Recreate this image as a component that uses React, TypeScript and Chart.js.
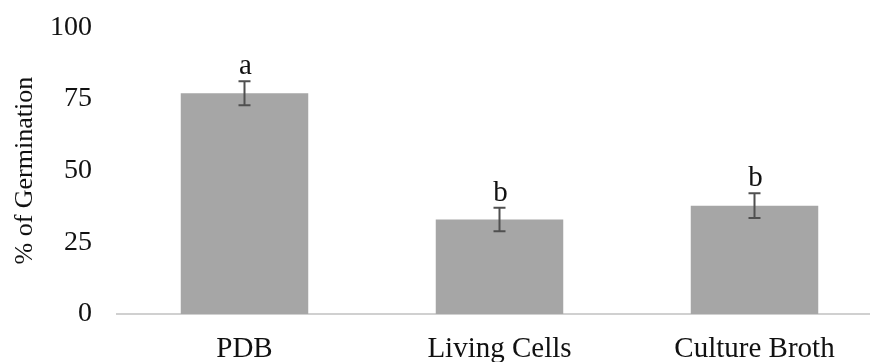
import React, { useEffect, useRef } from "react";
import { Chart, registerables } from "chart.js";

Chart.register(...registerables);

const categories = ["PDB", "Living Cells", "Culture Broth"];
const germination = [77.0, 33.0, 37.8];
const errors = [4.2, 4.1, 4.3];
const letters = ["a", "b", "b"];
const yTicks = [0, 25, 50, 75, 100];

const FONT = "'Liberation Serif', 'Times New Roman', serif";

const errorBarPlugin = {
  id: "errorBars",
  afterDatasetsDraw(chart: any) {
    const ctx = chart.ctx;
    const ys = chart.scales.y;
    const meta = chart.getDatasetMeta(0);
    ctx.save();
    meta.data.forEach((bar: any, i: number) => {
      const x = bar.x;
      const yTop = ys.getPixelForValue(germination[i] + errors[i]);
      const yBot = ys.getPixelForValue(germination[i] - errors[i]);
      ctx.strokeStyle = "#505050";
      ctx.lineWidth = 2;
      ctx.beginPath();
      ctx.moveTo(x, yTop);
      ctx.lineTo(x, yBot);
      ctx.moveTo(x - 6, yTop);
      ctx.lineTo(x + 6, yTop);
      ctx.moveTo(x - 6, yBot);
      ctx.lineTo(x + 6, yBot);
      ctx.stroke();
      ctx.fillStyle = "#111111";
      ctx.font = `29px ${FONT}`;
      ctx.textAlign = "center";
      ctx.textBaseline = "alphabetic";
      ctx.fillText(letters[i], x + 1, yTop - 7);
    });
    ctx.restore();
  },
};

export default function App() {
  const ref = useRef<HTMLCanvasElement>(null);
  useEffect(() => {
    document.documentElement.style.overflow = "hidden";
    document.body.style.overflow = "hidden";
    const chart = new Chart(ref.current as HTMLCanvasElement, {
      type: "bar",
      data: {
        labels: categories,
        datasets: [
          {
            data: germination,
            backgroundColor: "#a6a6a6",
            borderWidth: 0,
            barPercentage: 0.5,
            categoryPercentage: 1,
          },
        ],
      },
      options: {
        animation: false,
        responsive: false,
        devicePixelRatio: 1,
        layout: { padding: { top: 0, right: 2, left: 0, bottom: 0 } },
        plugins: { legend: { display: false }, tooltip: { enabled: false } },
        scales: {
          x: {
            grid: { display: false, drawTicks: false },
            border: { display: true, color: "#d0d0d0", width: 2 },
            ticks: {
              font: { family: FONT, size: 29 },
              color: "#111111",
              padding: 18,
              maxRotation: 0,
              autoSkip: false,
            },
            afterFit: (s: any) => {
              s.height = 48;
            },
          },
          y: {
            min: 0,
            max: 100,
            afterBuildTicks: (s: any) => {
              s.ticks = yTicks.map((v) => ({ value: v }));
            },
            grid: { display: false, drawTicks: false },
            border: { display: false },
            ticks: {
              font: { family: FONT, size: 28 },
              color: "#111111",
              padding: 25,
            },
            title: {
              display: true,
              text: "% of Germination",
              font: { family: FONT, size: 26 },
              color: "#111111",
              padding: { top: 10, bottom: 0 },
            },
            afterFit: (s: any) => {
              s.width = 117;
              s.paddingTop = 27.3;
              s.paddingBottom = 0;
            },
          },
        },
      },
      plugins: [errorBarPlugin],
    });
    return () => chart.destroy();
  }, []);
  return (
    <div style={{ position: "fixed", left: 0, top: 0, width: 884, height: 362, background: "#fff" }}>
      <canvas ref={ref} width={884} height={362} />
    </div>
  );
}
